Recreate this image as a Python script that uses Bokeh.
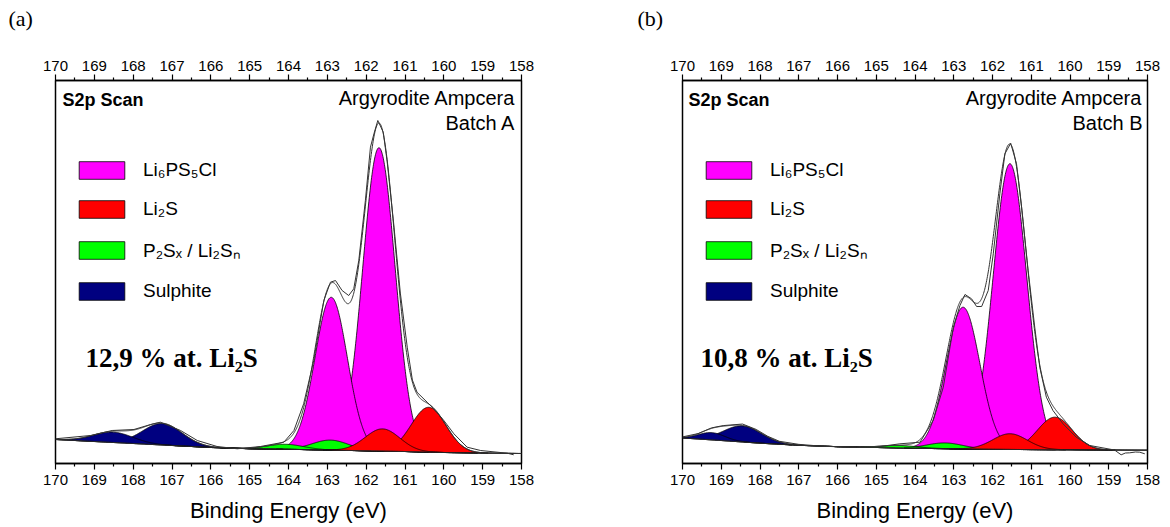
import numpy as np
from bokeh.plotting import figure
from bokeh.layouts import row
from bokeh.models import Range1d, LinearAxis, FixedTicker, Label, Legend, LegendItem
from bokeh.embed import file_html
from bokeh.resources import INLINE

# ---------------- data ----------------
major_ticks = list(range(158, 171))
minor_ticks = [158.5 + i for i in range(12)]

component_names = ["Li₆PS₅Cl", "Li₂S", "P₂Sₓ / Li₂Sₙ", "Sulphite"]
component_colors = ["#FF00FF", "#FF0000", "#00FF00", "#000080"]

background_energy = [170, 169, 168, 167, 166, 165, 164, 163, 162, 161, 160, 159, 158]

# panel (a) - Batch A
a_background = [6.27, 5.74, 5.22, 4.70, 4.18, 3.86, 3.71, 3.52, 3.32, 3.13, 2.87, 2.72, 2.61]
a_center = [[161.67, 162.90], [160.39, 161.58], [162.92, 164.08], [167.25, 168.52]]
a_height = [[79.2, 39.9], [11.7, 5.8], [2.6, 1.3], [5.6, 2.7]]
a_fwhm = [[0.98, 0.98], [1.05, 1.05], [1.10, 1.10], [1.20, 1.20]]
a_raw_energy = [170.00, 169.10, 168.54, 167.98, 167.55, 167.30, 166.78, 166.35, 165.84, 165.32,
                164.72, 164.12, 163.86, 163.61, 163.35, 163.09, 162.92, 162.79, 162.62, 162.45,
                162.32, 162.19, 162.02, 161.89, 161.80, 161.70, 161.56, 161.46, 161.29, 161.12,
                160.94, 160.81, 160.69, 160.43, 160.26, 160.00, 159.74, 159.40, 159.05, 158.37, 158.20]
a_raw_intensity = [6.45, 7.31, 8.62, 8.88, 10.18, 10.78, 8.62, 6.01, 4.44, 3.84,
                   4.44, 5.56, 8.62, 15.59, 26.89, 42.56, 47.34, 47.78, 45.17, 43.86,
                   45.61, 53.00, 68.67, 82.59, 86.09, 89.56, 86.50, 78.90, 62.50, 44.50,
                   30.20, 21.80, 18.60, 16.01, 14.28, 11.23, 7.75, 4.26, 3.39, 2.69, 2.27]

# panel (b) - Batch B
b_background = [6.66, 6.00, 5.30, 4.75, 4.40, 4.18, 3.97, 3.84, 3.71, 3.63, 3.58, 3.52, 3.47]
b_center = [[161.55, 162.76], [160.39, 161.55], [163.23, 164.40], [168.45, 169.25]]
b_height = [[74.6, 37.0], [8.5, 4.1], [1.5, 0.65], [4.2, 1.9]]
b_fwhm = [[1.02, 1.02], [1.05, 1.05], [1.10, 1.10], [1.15, 0.80]]
b_raw_energy = [170.00, 169.60, 169.25, 168.95, 168.45, 168.10, 167.80, 167.50, 167.00, 166.50,
                166.00, 165.50, 165.00, 164.39, 163.87, 163.53, 163.27, 163.01, 162.84, 162.71,
                162.54, 162.41, 162.28, 162.11, 161.98, 161.81, 161.68, 161.53, 161.38, 161.25,
                161.08, 160.91, 160.78, 160.61, 160.44, 160.18, 159.84, 159.49, 158.85, 158.68,
                158.57, 158.46, 158.31, 158.20, 158.07]
b_raw_intensity = [6.95, 7.80, 9.30, 9.90, 10.30, 8.90, 7.10, 5.80, 5.00, 4.60,
                   4.35, 4.25, 4.30, 5.14, 5.56, 11.23, 19.92, 35.59, 41.25, 44.13,
                   43.00, 40.99, 40.99, 45.17, 54.75, 70.42, 80.86, 83.63, 78.25, 66.92,
                   50.39, 35.59, 25.14, 17.31, 13.84, 10.37, 6.87, 4.70, 3.52, 2.27,
                   2.74, 2.79, 3.00, 2.95, 2.53]

draw_order = [0, 2, 1, 3]
LINE = "#333333"


def gaussian(e, c, h, w):
    return h * np.exp(-4.0 * np.log(2.0) * ((e - c) / w) ** 2)


def make_panel(tag, centers, heights, fwhms, background, raw_e, raw_i, pct_text, batch,
               width, left, right, tag_offset, pct_x, scan_x):
    p = figure(width=width, height=527, x_range=Range1d(170, 158), y_range=Range1d(0, 100),
               output_backend="svg", toolbar_location=None,
               x_axis_location=None, y_axis_location=None,
               min_border_left=left, min_border_right=right,
               min_border_top=80, min_border_bottom=64)
    for g in p.grid:
        g.visible = False
    p.outline_line_color = "black"
    p.outline_line_width = 1.5
    p.background_fill_color = "white"
    p.border_fill_color = "white"

    p.title.text = tag + "\n "
    p.title.text_font = "Liberation Serif"
    p.title.text_font_size = "22px"
    p.title.text_font_style = "normal"
    p.title.text_color = "black"
    p.title.align = "left"
    p.title.vertical_align = "top"
    p.title.offset = tag_offset
    p.title.standoff = 0

    for loc in ("below", "above"):
        ax = LinearAxis(ticker=FixedTicker(ticks=major_ticks, minor_ticks=minor_ticks))
        ax.major_label_text_font = "Liberation Sans"
        ax.major_label_text_font_size = "15px"
        ax.major_label_text_color = "black"
        ax.axis_line_color = "black"
        ax.axis_line_width = 1.5
        ax.major_tick_out = 6
        ax.major_tick_in = 0
        ax.minor_tick_out = 3
        ax.minor_tick_in = 0
        ax.major_tick_line_color = "black"
        ax.minor_tick_line_color = "black"
        ax.major_tick_line_width = 1.2
        ax.minor_tick_line_width = 1.2
        if loc == "below":
            ax.axis_label = "Binding Energy (eV)"
            ax.axis_label_text_font = "Liberation Sans"
            ax.axis_label_text_font_size = "22px"
            ax.axis_label_text_font_style = "normal"
            ax.axis_label_text_color = "black"
            ax.axis_label_standoff = 10
            ax.major_label_standoff = 5
        else:
            ax.major_label_standoff = 4
        p.add_layout(ax, loc)

    e = np.linspace(158.0, 170.0, 1201)
    bg_e = np.array(background_energy[::-1], dtype=float)
    bg_v = np.array(background[::-1], dtype=float)
    base = np.interp(e, bg_e, bg_v)

    envelope = base.copy()
    renderers = {}
    for k in draw_order:
        xs, ys = [], []
        for c, h, w in zip(centers[k], heights[k], fwhms[k]):
            m = np.abs(e - c) <= 2.6 * w
            ee = e[m]
            top = base[m] + gaussian(ee, c, h, w)
            xs.append(list(np.concatenate([ee, ee[::-1]])))
            ys.append(list(np.concatenate([top, base[m][::-1]])))
        renderers[k] = p.patches(xs, ys, fill_color=component_colors[k], line_color="black",
                                 line_width=0.8)
    for k in range(4):
        for c, h, w in zip(centers[k], heights[k], fwhms[k]):
            envelope = envelope + gaussian(e, c, h, w)

    p.line(e, base, line_color=LINE, line_width=1)
    p.line(e, envelope, line_color=LINE, line_width=1)
    p.line(raw_e, raw_i, line_color=LINE, line_width=1)

    items = [LegendItem(label=component_names[k], renderers=[renderers[k]]) for k in range(4)]
    legend = Legend(items=items, location=(18, 161), padding=0, margin=0,
                    glyph_width=57, glyph_height=22, label_height=22, label_standoff=13,
                    spacing=17, border_line_alpha=0, background_fill_alpha=0,
                    label_text_font="Liberation Sans", label_text_font_size="19px",
                    label_text_color="black", label_text_baseline="middle")
    p.add_layout(legend)

    p.add_layout(Label(x=scan_x, y=364, x_units="screen", y_units="screen", text="S2p Scan",
                       text_font="Liberation Sans", text_font_size="18px", text_font_style="bold",
                       text_baseline="middle", text_align="left", text_color="black"))
    p.add_layout(Label(x=460, y=366, x_units="screen", y_units="screen", text="Argyrodite Ampcera",
                       text_font="Liberation Sans", text_font_size="20px",
                       text_baseline="middle", text_align="right", text_color="black"))
    p.add_layout(Label(x=460, y=341, x_units="screen", y_units="screen", text=batch,
                       text_font="Liberation Sans", text_font_size="20px",
                       text_baseline="middle", text_align="right", text_color="black"))
    p.add_layout(Label(x=pct_x, y=106, x_units="screen", y_units="screen", text=pct_text,
                       text_font="Liberation Serif", text_font_size="27px", text_font_style="bold",
                       text_baseline="middle", text_align="left", text_color="black"))
    return p


pa = make_panel("(a)", a_center, a_height, a_fwhm, a_background, a_raw_energy, a_raw_intensity,
                "12,9 % at. Li₂S", "Batch A", width=600, left=55, right=79,
                tag_offset=-47, pct_x=30, scan_x=7)
pb = make_panel("(b)", b_center, b_height, b_fwhm, b_background, b_raw_energy, b_raw_intensity,
                "10,8 % at. Li₂S", "Batch B", width=570, left=82, right=23,
                tag_offset=-45, pct_x=18, scan_x=6)

layout = row(pa, pb)
open("out.html", "w").write(file_html(layout, INLINE))
